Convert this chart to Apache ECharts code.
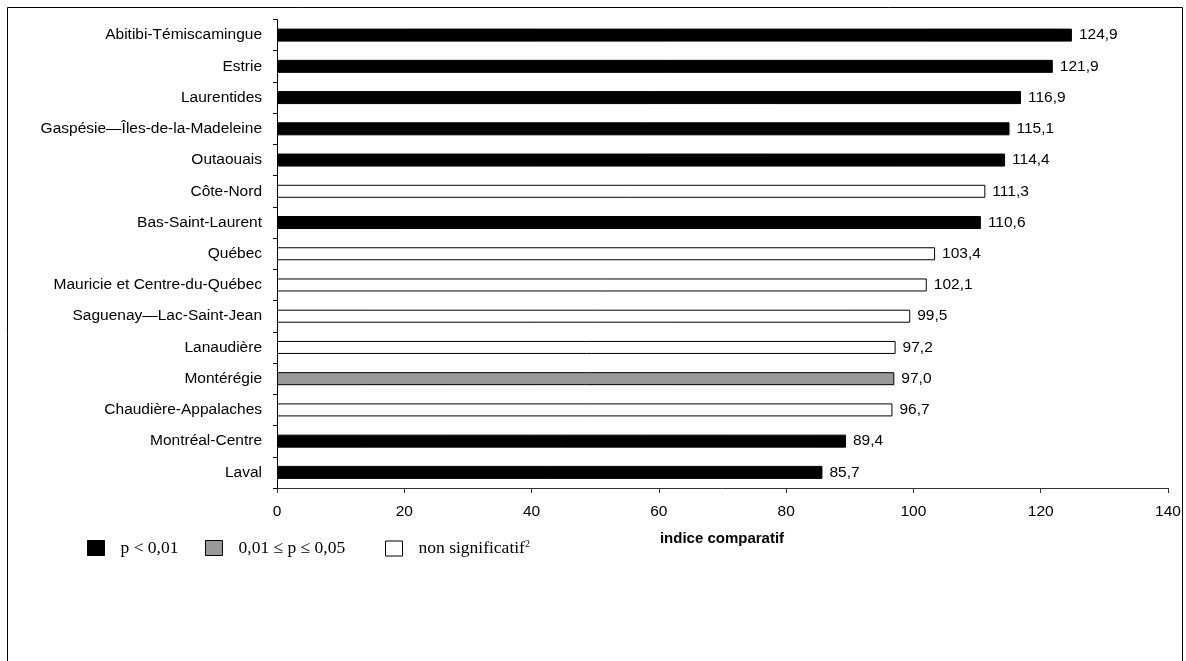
<!DOCTYPE html>
<html>
<head>
<meta charset="utf-8">
<script src="https://cdn.jsdelivr.net/npm/echarts@6/dist/echarts.min.js"></script>
<style>
html,body{margin:0;padding:0;background:#fff;}
#chart{width:1186px;height:661px;}
</style>
</head>
<body>
<div id="chart"></div>
<script>
const categories = [
  "Abitibi-Témiscamingue","Estrie","Laurentides","Gaspésie—Îles-de-la-Madeleine","Outaouais",
  "Côte-Nord","Bas-Saint-Laurent","Québec","Mauricie et Centre-du-Québec","Saguenay—Lac-Saint-Jean",
  "Lanaudière","Montérégie","Chaudière-Appalaches","Montréal-Centre","Laval"
];
const values = [124.9,121.9,116.9,115.1,114.4,111.3,110.6,103.4,102.1,99.5,97.2,97.0,96.7,89.4,85.7];
// significance group: 0 = p < 0,01 ; 1 = 0,01 ≤ p ≤ 0,05 ; 2 = non significatif
const groups = [0,0,0,0,0,2,0,2,2,2,2,1,2,0,0];
const groupNames = ["p < 0,01","0,01 ≤ p ≤ 0,05","non significatif"];
const groupColors = ["#000000","#999999","#ffffff"];
const xTicks = [0,20,40,60,80,100,120,140];
const axisTitle = "indice comparatif";

const SANS = 'Liberation Sans, Arial, sans-serif';
const SERIF = 'Liberation Serif, Times New Roman, serif';

const series = groupNames.map((name, g) => ({
  name: name,
  type: 'bar',
  stack: 'all',
  barWidth: 13,
  data: values.map((v, i) => groups[i] === g ? v : null),
  itemStyle: {color: groupColors[g], borderColor: '#000', borderWidth: 1},
  label: {
    show: true, position: 'right', distance: 7,
    fontFamily: SANS, fontSize: 15.5, color: '#000',
    formatter: p => p.value == null ? '' : p.value.toFixed(1).replace('.', ',')
  }
}));

const legendLefts = [87, 205, 385];
const legends = groupNames.map((name, g) => ({
  left: legendLefts[g], top: 539, padding: 0, itemWidth: 17, itemHeight: 15, icon: 'rect',
  data: [name],
  itemStyle: {borderColor: '#000', borderWidth: 1},
  textStyle: {fontFamily: SERIF, fontSize: 17.5, color: '#000',
    rich: {
      s: {width: 11},
      t: {fontFamily: SERIF, fontSize: 17.5, color: '#000'},
      sup: {fontFamily: SERIF, fontSize: 10, verticalAlign: 'top', padding: [0,0,9,0], color: '#000'}
    }},
  formatter: n => n === 'non significatif' ? '{s|}{t|non significatif}{sup|2}' : '{s|}{t|' + n + '}'
}));

const chart = echarts.init(document.getElementById('chart'), null, {renderer: 'canvas'});
chart.setOption({
  animation: false,
  backgroundColor: '#fff',
  grid: {left: 277, right: 18, top: 19.5, bottom: 173, containLabel: false},
  xAxis: {
    type: 'value', min: xTicks[0], max: xTicks[xTicks.length - 1], interval: 20,
    splitLine: {show: false},
    axisLine: {show: true, lineStyle: {color: '#333', width: 1}},
    axisTick: {show: true, length: 5, lineStyle: {color: '#333'}},
    axisLabel: {fontFamily: SANS, fontSize: 15.5, color: '#000', margin: 16}
  },
  yAxis: {
    type: 'category', data: categories, inverse: true,
    axisLine: {show: true, lineStyle: {color: '#000', width: 1}},
    axisTick: {show: true, length: 4, lineStyle: {color: '#000'}},
    axisLabel: {fontFamily: SANS, fontSize: 15.5, color: '#000', margin: 15}
  },
  legend: legends,
  graphic: [
    {type: 'rect', shape: {x: 7.5, y: 7.5, width: 1175, height: 700}, style: {fill: 'none', stroke: '#000', lineWidth: 1}, silent: true},
    {type: 'text', x: 722, y: 539, style: {text: axisTitle, fontFamily: SANS, fontWeight: 'bold', fontSize: 15, fill: '#000', textAlign: 'center', textVerticalAlign: 'middle'}}
  ],
  series: series
});
</script>
</body>
</html>
